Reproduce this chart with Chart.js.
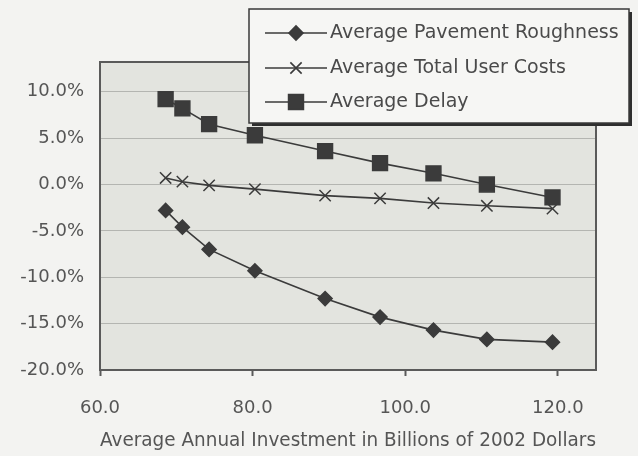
<!DOCTYPE html>
<html>
<head>
<meta charset="utf-8">
<script src="https://cdn.jsdelivr.net/npm/chart.js@4.4.1/dist/chart.umd.min.js"></script>
<style>
  html, body { margin: 0; padding: 0; background: #f3f3f1; }
  canvas { display: block; }
</style>
</head>
<body>
<canvas id="chart" width="638" height="456"></canvas>
<script>
// Data
const investment = [68.6, 70.8, 74.3, 80.3, 89.5, 96.7, 103.7, 110.7, 119.3];
const roughness = [-2.8, -4.6, -7.0, -9.3, -12.3, -14.3, -15.7, -16.7, -17.0];
const userCosts = [0.7, 0.3, -0.1, -0.5, -1.2, -1.5, -2.0, -2.3, -2.6];
const delay = [9.2, 8.2, 6.5, 5.3, 3.6, 2.3, 1.2, 0.0, -1.4];
const seriesNames = ['Average Pavement Roughness', 'Average Total User Costs', 'Average Delay'];
const xTicks = [60, 80, 100, 120];
const yTicks = [-20, -15, -10, -5, 0, 5, 10];
const xTitle = 'Average Annual Investment in Billions of 2002 Dollars';

const FONT = '"DejaVu Sans", sans-serif';
const INK = '#3b3b3b';

function points(ys) {
    return ys.map((y, i) => ({ x: investment[i], y }));
}

function series(label, ys, style, radius) {
    return {
        label,
        data: points(ys),
        borderColor: INK,
        borderWidth: 1.6,
        pointStyle: style,
        pointRadius: radius,
        pointBackgroundColor: INK,
        pointBorderColor: INK,
        pointBorderWidth: 1.5,
        tension: 0
    };
}

// plot background, frame and the boxed legend
const decor = {
    id: 'decor',
    beforeDraw(chart) {
        const { ctx, chartArea: a } = chart;
        ctx.save();
        ctx.fillStyle = '#f3f3f1';
        ctx.fillRect(0, 0, chart.width, chart.height);
        ctx.fillStyle = '#e3e4df';
        ctx.fillRect(a.left, a.top, a.right - a.left, a.bottom - a.top);
        ctx.restore();
    },
    beforeDatasetsDraw(chart) {
        const { ctx, chartArea: a } = chart;
        ctx.save();
        ctx.strokeStyle = '#5a5a5a';
        ctx.lineWidth = 2;
        ctx.strokeRect(a.left, a.top, a.right - a.left, a.bottom - a.top);
        ctx.restore();
    },
    afterDraw(chart) {
        const ctx = chart.ctx;
        const box = { x: 249, y: 9, w: 380, h: 114 };
        ctx.save();
        ctx.fillStyle = '#2e2e2e';
        ctx.fillRect(box.x + 3, box.y + 3, box.w, box.h);
        ctx.fillStyle = '#f6f6f4';
        ctx.fillRect(box.x, box.y, box.w, box.h);
        ctx.strokeStyle = '#3a3a3a';
        ctx.lineWidth = 1.5;
        ctx.strokeRect(box.x, box.y, box.w, box.h);

        const rows = [33, 68, 102];
        chart.data.datasets.forEach((ds, i) => {
            const y = rows[i];
            ctx.strokeStyle = INK;
            ctx.lineWidth = 1.6;
            ctx.beginPath();
            ctx.moveTo(265, y);
            ctx.lineTo(327, y);
            ctx.stroke();
            ctx.fillStyle = INK;
            Chart.helpers.drawPoint(ctx, {
                pointStyle: ds.pointStyle,
                radius: ds.pointRadius,
                rotation: 0,
                borderWidth: 1.5
            }, 296, y);
            ctx.fillStyle = '#4a4a4a';
            ctx.font = '19px ' + FONT;
            ctx.textBaseline = 'middle';
            ctx.textAlign = 'left';
            ctx.fillText(ds.label, 330, y);
        });
        ctx.restore();
    }
};

new Chart(document.getElementById('chart'), {
    type: 'line',
    data: {
        datasets: [
            series(seriesNames[0], roughness, 'rectRot', 7),
            series(seriesNames[1], userCosts, 'crossRot', 8),
            series(seriesNames[2], delay, 'rect', 10.5)
        ]
    },
    options: {
        responsive: false,
        animation: false,
        layout: { padding: { top: 62, right: 42, left: 0, bottom: 0 } },
        plugins: {
            legend: { display: false },
            tooltip: { enabled: false }
        },
        scales: {
            x: {
                type: 'linear',
                min: 60,
                max: 125,
                afterBuildTicks: s => { s.ticks = xTicks.map(v => ({ value: v })); },
                afterFit: s => { s.height = 86; },
                border: { display: false },
                grid: {
                    drawOnChartArea: false,
                    drawTicks: true,
                    tickLength: 6,
                    tickColor: '#5a5a5a',
                    tickWidth: 2
                },
                ticks: {
                    padding: 22,
                    color: '#555',
                    font: { family: FONT, size: 18 },
                    callback: v => v.toFixed(1)
                },
                title: {
                    display: true,
                    text: xTitle,
                    color: '#555',
                    font: { family: FONT, size: 19 },
                    padding: { top: 0, bottom: 4 }
                }
            },
            y: {
                type: 'linear',
                min: -20,
                max: 13.2,
                afterBuildTicks: s => { s.ticks = yTicks.map(v => ({ value: v })); },
                afterFit: s => { s.width = 100; },
                border: { display: false },
                grid: {
                    color: '#b4b5b1',
                    lineWidth: 1,
                    drawTicks: false
                },
                ticks: {
                    padding: 16,
                    color: '#555',
                    font: { family: FONT, size: 18 },
                    callback: v => v.toFixed(1) + '%'
                }
            }
        }
    },
    plugins: [decor]
});
</script>
</body>
</html>
